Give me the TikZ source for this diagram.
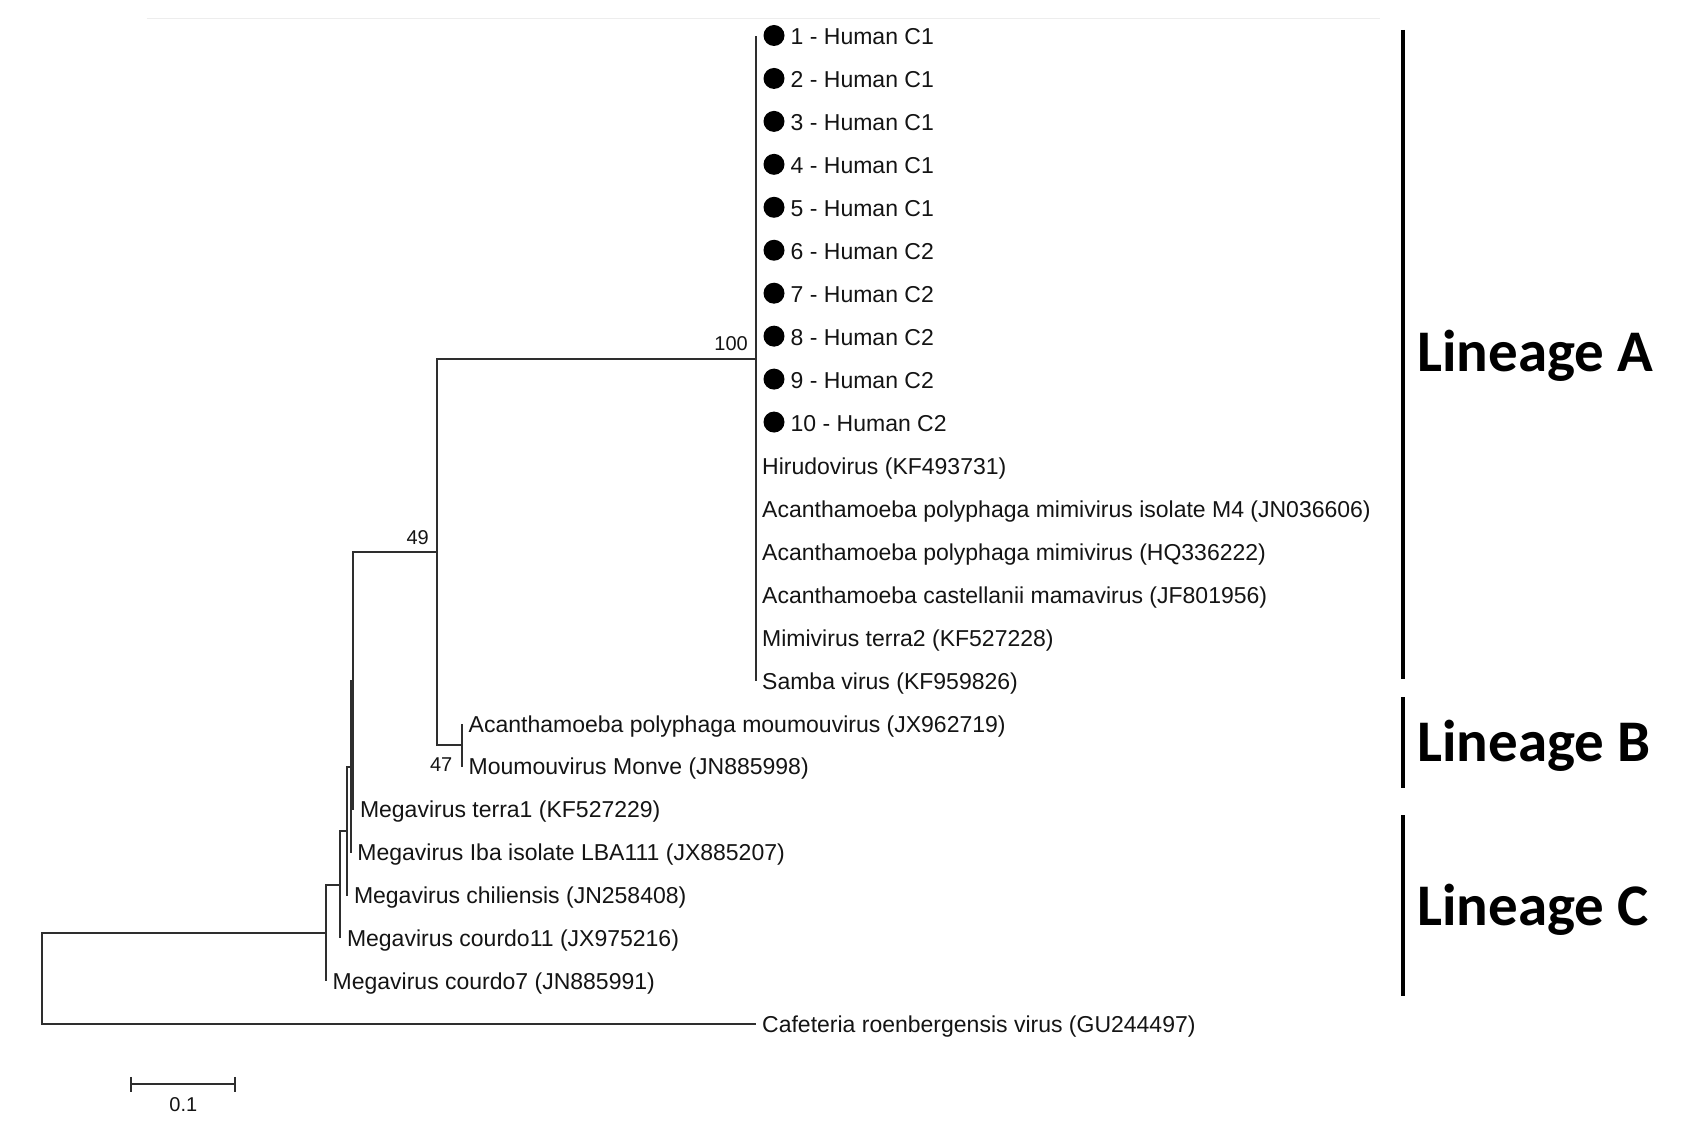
\documentclass[tikz,border=0pt]{standalone}
\usepackage{fontspec}
\setmainfont{Liberation Sans}
\newfontfamily\linfont{Carlito}
\usetikzlibrary{calc}
\begin{document}
\begin{tikzpicture}[x=1pt,y=-1pt,
  br/.style={line width=2pt, draw=black!82},
  lab/.style={anchor=base west, inner sep=0pt, text=black!92, font=\fontsize{23}{27}\selectfont},
  boot/.style={anchor=base east, inner sep=0pt, text=black!92, font=\fontsize{20}{24}\selectfont},
  lin/.style={anchor=base west, inner sep=0pt, font=\linfont\bfseries\fontsize{59}{70}\selectfont},
  linbar/.style={line width=4pt, draw=black},
  hdot/.style={circle, fill=black, minimum size=21pt, inner sep=0pt}]
\useasboundingbox (0,0) rectangle (1686,1131);
% faint top rule
\draw[line width=1.5pt, draw=black!7] (146.7,18.3) coordinate (g1) -- (1380,18.3) coordinate (g2);
% leaf tips
\foreach \i in {1,...,16} \coordinate (l\i) at (755.5,{36.5+42.95*(\i-1)});
\coordinate (l17) at (462,{36.5+42.95*16});
\coordinate (l18) at (462,{36.5+42.95*17});
\coordinate (l19) at (353.3,{36.5+42.95*18});
\coordinate (l20) at (350.7,{36.5+42.95*19});
\coordinate (l21) at (347.3,{36.5+42.95*20});
\coordinate (l22) at (340.3,{36.5+42.95*21});
\coordinate (l23) at (326,{36.5+42.95*22});
\coordinate (l24) at (755.5,{36.5+42.95*23});
% internal nodes
\coordinate (n100) at (755.5,358.6);
\coordinate (nMou) at (462,745.2);
\coordinate (n49) at (436.7,551.9);
\coordinate (N5) at (353.3,680.75);
\coordinate (N4) at (350.7,766.65);
\coordinate (N3) at (347.3,831.1);
\coordinate (N2) at (340.3,884.8);
\coordinate (N1) at (326,933.1);
\coordinate (root) at (41.7,978.7);
% branches
\draw[br] (l1) -- (l16);
\draw[br] (nMou) |- (l17); \draw[br] (nMou) |- (l18);
\draw[br] (n49) |- (n100); \draw[br] (n49) |- (nMou);
\draw[br] (N5) |- (n49); \draw[br] (N5) |- (l19);
\draw[br] (N4) |- (N5); \draw[br] (N4) |- (l20);
\draw[br] (N3) |- (N4); \draw[br] (N3) |- (l21);
\draw[br] (N2) |- (N3); \draw[br] (N2) |- (l22);
\draw[br] (N1) |- (N2); \draw[br] (N1) |- (l23);
\draw[br] (root) |- (N1); \draw[br] (root) |- (l24);
% human samples
\foreach \i/\c in {1/C1,2/C1,3/C1,4/C1,5/C1,6/C2,7/C2,8/C2,9/C2,10/C2}{
  \node[hdot] (d\i) at ($(l\i)+(18.5,-1)$) {};
  \node[lab] (t\i) at ($(l\i)+(35,8.3)$) {\i{} - Human \c};
}
% other leaves
\foreach \i/\t in {11/{Hirudovirus (KF493731)},
  12/{Acanthamoeba polyphaga mimivirus isolate M4 (JN036606)},
  13/{Acanthamoeba polyphaga mimivirus (HQ336222)},
  14/{Acanthamoeba castellanii mamavirus (JF801956)},
  15/{Mimivirus terra2 (KF527228)},
  16/{Samba virus (KF959826)},
  17/{Acanthamoeba polyphaga moumouvirus (JX962719)},
  18/{Moumouvirus Monve (JN885998)},
  19/{Megavirus terra1 (KF527229)},
  20/{Megavirus Iba isolate LBA111 (JX885207)},
  21/{Megavirus chiliensis (JN258408)},
  22/{Megavirus courdo11 (JX975216)},
  23/{Megavirus courdo7 (JN885991)},
  24/{Cafeteria roenbergensis virus (GU244497)}}{
  \node[lab] (t\i) at ($(l\i)+(6.5,8.3)$) {\t};
}
% bootstrap values
\node[boot] (b100) at (748,351) {100};
\node[boot] (b49) at (429,544.2) {49};
\node[boot] (b47) at (452.5,771.7) {47};
% scale bar
\coordinate (s1) at (131,1084.3);
\coordinate (s2) at (235,1084.3);
\draw[br] (s1) -- (s2);
\draw[br] ($(s1)+(0,-7.5)$) -- ($(s1)+(0,7.5)$);
\draw[br] ($(s2)+(0,-7.5)$) -- ($(s2)+(0,7.5)$);
\node[anchor=base, inner sep=0pt, text=black!92, font=\fontsize{20}{24}\selectfont] (sl) at (183.3,1111.7) {0.1};
% lineage bars
\draw[linbar] (1403.3,30) coordinate (aT) -- (1403.3,679) coordinate (aB);
\draw[linbar] (1403.3,697) coordinate (bT) -- (1403.3,788) coordinate (bB);
\draw[linbar] (1403.3,815) coordinate (cT) -- (1403.3,996) coordinate (cB);
\node[lin] (LA) at (1417,371.7) {Lineage A};
\node[lin] (LB) at (1417,761) {Lineage B};
\node[lin] (LC) at (1417,925) {Lineage C};
\end{tikzpicture}
\end{document}
